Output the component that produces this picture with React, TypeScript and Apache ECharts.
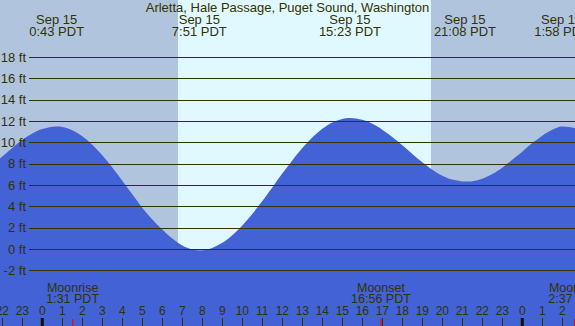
import React, { useEffect, useRef } from "react";
import * as echarts from "echarts";

// ---- data ----
const chartTitle = "Arletta, Hale Passage, Puget Sound, Washington";

// hours since midnight Sep 15 (PDT) and tide height in feet
const tideHours = [
  -2.115, -2, -1.5, -1, -0.5, 0, 0.717, 1, 1.5, 2, 2.5, 3, 3.5, 4, 4.5, 5, 5.5, 6, 6.5, 7, 7.5,
  7.85, 8, 8.5, 9, 9.5, 10, 10.5, 11, 11.5, 12, 12.5, 13, 13.5, 14, 14.5, 15, 15.383, 16, 16.5,
  17, 17.5, 18, 18.5, 19, 19.5, 20, 20.5, 21, 21.133, 21.5, 22, 22.5, 23, 23.5, 24, 24.5, 25,
  25.5, 25.967, 26.3, 26.635,
];
const tideHeights = [
  8.5, 8.69, 9.49, 10.23, 10.84, 11.26, 11.5, 11.45, 11.16, 10.6, 9.8, 8.81, 7.66, 6.42, 5.15,
  3.9, 2.8, 1.85, 1.0, 0.35, -0.03, -0.1, -0.09, 0.13, 0.6, 1.31, 2.23, 3.31, 4.52, 5.8, 7.09,
  8.33, 9.48, 10.48, 11.3, 11.89, 12.22, 12.3, 12.13, 11.76, 11.21, 10.52, 9.74, 8.93, 8.15,
  7.46, 6.9, 6.53, 6.36, 6.35, 6.38, 6.6, 7.05, 7.65, 8.4, 9.15, 9.95, 10.65, 11.2, 11.5, 11.45,
  11.35,
];

const extremeHours = [0.717, 7.85, 15.383, 21.133, 25.967];
const extremeDates = ["Sep 15", "Sep 15", "Sep 15", "Sep 15", "Sep 16"];
const extremeTimes = ["0:43 PDT", "7:51 PDT", "15:23 PDT", "21:08 PDT", "1:58 PDT"];

const moonHours = [1.517, 16.933, 26.617];
const moonNames = ["Moonrise", "Moonset", "Moonrise"];
const moonTimes = ["1:31 PDT", "16:56 PDT", "2:37 PDT"];

const sunriseHour = 6.785;
const sunsetHour = 19.435;
const midnightHours = [0, 24];

const hourTicks = [
  -2, -1, 0, 1, 2, 3, 4, 5, 6, 7, 8, 9, 10, 11, 12, 13, 14, 15, 16, 17, 18, 19, 20, 21, 22, 23,
  24, 25, 26,
];

// ---- layout / style ----
const W = 575;
const H = 326;
const X_MIN = -2.115;
const X_MAX = 26.635;
const Y_MIN = -7.19;
const Y_MAX = 23.36;

const NIGHT = "#B0C4DE";
const DAY = "#E0F8FF";
const WATER = "#4262D6";
const INK = "#333300";
const FONT = '"Liberation Sans", Arial, sans-serif';

export default function App() {
  const ref = useRef<HTMLDivElement>(null);

  useEffect(() => {
    if (!ref.current) return;
    const chart = echarts.init(ref.current, null, { renderer: "svg" });

    const option: any = {
      animation: false,
      backgroundColor: NIGHT,
      textStyle: { fontFamily: FONT },
      title: {
        text: chartTitle,
        left: "center",
        top: 1,
        padding: 0,
        textStyle: { fontSize: 13, fontWeight: "normal", color: INK, fontFamily: FONT },
      },
      grid: [
        { left: 0, right: 0, top: 0, bottom: 0, outerBoundsMode: "none", containLabel: false },
        { left: 29, right: 0, top: 57.2, bottom: 55.4, outerBoundsMode: "none", containLabel: false },
      ],
      xAxis: [
        {
          gridIndex: 0,
          type: "value",
          min: X_MIN,
          max: X_MAX,
          z: 5,
          splitLine: { show: false },
          axisLine: { show: false, onZero: false },
          axisTick: {
            show: true,
            inside: true,
            length: 8,
            customValues: hourTicks,
            lineStyle: { color: INK, width: 1 },
          },
          axisLabel: {
            show: true,
            inside: true,
            margin: 9,
            customValues: hourTicks,
            formatter: (v: number) => String(((v % 24) + 24) % 24),
            color: INK,
            fontSize: 12,
            fontFamily: FONT,
          },
        },
        { gridIndex: 1, type: "value", min: 0, max: 1, show: false, axisLine: { onZero: false } },
      ],
      yAxis: [
        { gridIndex: 0, type: "value", min: Y_MIN, max: Y_MAX, show: false, axisLine: { onZero: false } },
        {
          gridIndex: 1,
          type: "value",
          min: -2,
          max: 18,
          interval: 2,
          z: 5,
          axisLine: { show: false, onZero: false },
          axisTick: { show: false },
          splitLine: { show: true, lineStyle: { color: INK, width: 1 } },
          axisLabel: {
            formatter: "{value} ft",
            color: INK,
            fontSize: 13,
            margin: 3,
            fontFamily: FONT,
          },
        },
      ],
      series: [
        {
          // daylight band
          type: "custom",
          xAxisIndex: 0,
          yAxisIndex: 0,
          z: 1,
          silent: true,
          clip: false,
          data: [[sunriseHour, sunsetHour]],
          renderItem: (params: any, api: any) => {
            const x0 = api.coord([api.value(0), 0])[0];
            const x1 = api.coord([api.value(1), 0])[0];
            const cs = params.coordSys;
            return {
              type: "rect",
              shape: { x: x0, y: cs.y, width: x1 - x0, height: cs.height },
              style: { fill: DAY },
            };
          },
        },
        {
          type: "line",
          xAxisIndex: 0,
          yAxisIndex: 0,
          z: 2,
          silent: true,
          smooth: 0.3,
          showSymbol: false,
          lineStyle: { width: 0 },
          areaStyle: { color: WATER, opacity: 1, origin: "start" },
          data: tideHours.map((h, i) => [h, tideHeights[i]]),
        },
        {
          // midnight ticks
          type: "custom",
          xAxisIndex: 0,
          yAxisIndex: 0,
          z: 6,
          silent: true,
          clip: false,
          data: midnightHours.map((h) => [h, Y_MIN]),
          renderItem: (params: any, api: any) => {
            const p = api.coord([api.value(0), Y_MIN]);
            return {
              type: "rect",
              shape: { x: p[0] - 1.5, y: p[1] - 8, width: 3, height: 8 },
              style: { fill: "#111100" },
            };
          },
        },
        {
          // tide extreme labels
          type: "custom",
          xAxisIndex: 0,
          yAxisIndex: 0,
          z: 6,
          silent: true,
          clip: false,
          data: extremeHours.map((h, i) => [h, i]),
          renderItem: (params: any, api: any) => {
            const i = params.dataIndex;
            const x = api.coord([api.value(0), 0])[0];
            const st = { fontSize: 13, fontFamily: FONT, fill: INK, align: "center", verticalAlign: "middle" };
            return {
              type: "group",
              children: [
                { type: "text", x, y: 19.2, style: { ...st, text: extremeDates[i] } },
                { type: "text", x, y: 31.3, style: { ...st, text: extremeTimes[i] } },
              ],
            };
          },
        },
        {
          // moon events
          type: "custom",
          xAxisIndex: 0,
          yAxisIndex: 0,
          z: 6,
          silent: true,
          clip: false,
          data: moonHours.map((h, i) => [h, i]),
          renderItem: (params: any, api: any) => {
            const i = params.dataIndex;
            const p = api.coord([api.value(0), Y_MIN]);
            const x = p[0];
            const st = { fontSize: 12.5, fontFamily: FONT, fill: INK, align: "center", verticalAlign: "middle" };
            return {
              type: "group",
              children: [
                { type: "text", x, y: 287.5, style: { ...st, text: moonNames[i] } },
                { type: "text", x, y: 299.2, style: { ...st, text: moonTimes[i] } },
                { type: "rect", shape: { x: x - 0.5, y: p[1] - 7, width: 1.2, height: 7 }, style: { fill: "#FF0000" } },
              ],
            };
          },
        },
      ],
    };

    chart.setOption(option);
    return () => chart.dispose();
  }, []);

  return (
    <div
      ref={ref}
      style={{ position: "fixed", left: 0, top: 0, width: W, height: H }}
    />
  );
}
